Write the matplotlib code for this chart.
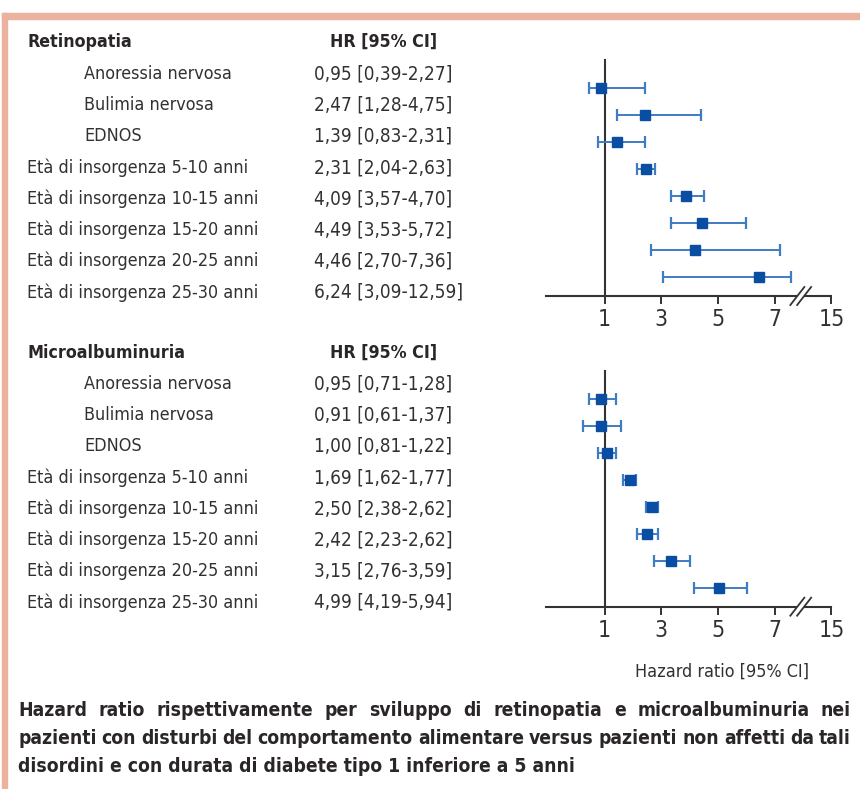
import matplotlib
matplotlib.use("Agg")
import matplotlib.pyplot as plt
from matplotlib import font_manager as fm
from matplotlib.patches import Rectangle
import numpy as np

# ---------------- data ----------------
categories = ["Anoressia nervosa", "Bulimia nervosa", "EDNOS",
              "Età di insorgenza 5-10 anni", "Età di insorgenza 10-15 anni",
              "Età di insorgenza 15-20 anni", "Età di insorgenza 20-25 anni",
              "Età di insorgenza 25-30 anni"]
indented = [True, True, True, False, False, False, False, False]

ret_hr_text = ["0,95 [0,39-2,27]", "2,47 [1,28-4,75]", "1,39 [0,83-2,31]",
               "2,31 [2,04-2,63]", "4,09 [3,57-4,70]", "4,49 [3,53-5,72]",
               "4,46 [2,70-7,36]", "6,24 [3,09-12,59]"]
mic_hr_text = ["0,95 [0,71-1,28]", "0,91 [0,61-1,37]", "1,00 [0,81-1,22]",
               "1,69 [1,62-1,77]", "2,50 [2,38-2,62]", "2,42 [2,23-2,62]",
               "3,15 [2,76-3,59]", "4,99 [4,19-5,94]"]

# plotted positions (as drawn in the figure, on the broken axis scale)
ret_hr = [0.88, 2.41, 1.45, 2.45, 3.86, 4.43, 4.20, 6.44]
ret_lo = [0.44, 1.45, 0.75, 2.13, 3.33, 3.33, 2.63, 3.05]
ret_hi = [2.41, 4.39, 2.41, 2.79, 4.50, 5.98, 7.20, 7.57]

mic_hr = [0.88, 0.88, 1.07, 1.88, 2.66, 2.51, 3.33, 5.03]
mic_lo = [0.45, 0.25, 0.75, 1.64, 2.45, 2.13, 2.74, 4.14]
mic_hi = [1.40, 1.59, 1.40, 2.10, 2.87, 2.87, 4.00, 6.02]

tick_pos = [1, 3, 5, 7, 9]
tick_labels = ["1", "3", "5", "7", "15"]

panel_titles = ["Retinopatia", "Microalbuminuria"]
hr_header = "HR [95% CI]"
xlabel = "Hazard ratio [95% CI]"
caption_lines = [
    "Hazard ratio rispettivamente per sviluppo di retinopatia e microalbuminuria nei",
    "pazienti con disturbi del comportamento alimentare versus pazienti non affetti da tali",
    "disordini e con durata di diabete tipo 1 inferiore a 5 anni",
]

# ---------------- style ----------------
names = {f.name for f in fm.fontManager.ttflist}
if "Liberation Sans Narrow" in names:
    FONT, STRETCH = "Liberation Sans Narrow", "normal"
else:
    FONT, STRETCH = "DejaVu Sans", "condensed"
plt.rcParams["font.family"] = [FONT, "DejaVu Sans"]
plt.rcParams["font.stretch"] = STRETCH

TXT = "#2a2627"
TXT_LIGHT = "#333031"
BORDER = "#ebb29f"
MARK = "#0a4ea3"
ERR = "#3f7cc4"
AXC = "#333333"

W, H = 860, 789
fig = plt.figure(figsize=(W / 100, H / 100), dpi=100)
fig.patch.set_facecolor("white")


def fx(x):
    return x / W


def fy(y):
    return 1 - y / H


# border
fig.patches.append(Rectangle((fx(2), 0), fx(5), 1 - 13 / H, transform=fig.transFigure,
                             color=BORDER, zorder=0))
fig.patches.append(Rectangle((fx(2), fy(18.5)), 1, 5.5 / H, transform=fig.transFigure,
                             color=BORDER, zorder=0))

LABEL_FS = 12.9
HR_FS = 13.6
HEAD_FS = 12.8
TICK_FS = 16.5

row_step = 27.0
text_step = 31.2

panels = [
    dict(title_y=42, row_text0=74, row0=88, hr=ret_hr, lo=ret_lo, hi=ret_hi, txt=ret_hr_text,
         axis_y=296, vtop=60),
    dict(title_y=353, row_text0=384, row0=399.3, hr=mic_hr, lo=mic_lo, hi=mic_hi, txt=mic_hr_text,
         axis_y=606.7, vtop=371),
]

px_per_unit = 28.33
x1_px = 604.7
ax_left_px, ax_right_px = 540, 845

for p, title in zip(panels, panel_titles):
    fig.text(fx(27), fy(p["title_y"]), title, fontsize=HEAD_FS, fontweight="bold",
             color=TXT, va="center", ha="left")
    fig.text(fx(330), fy(p["title_y"]), hr_header, fontsize=HEAD_FS, fontweight="bold",
             color=TXT, va="center", ha="left")
    for i, (cat, ind, t) in enumerate(zip(categories, indented, p["txt"])):
        yy = p["row_text0"] + i * text_step
        fig.text(fx(84 if ind else 27), fy(yy), cat, fontsize=LABEL_FS, color=TXT_LIGHT,
                 va="center", ha="left")
        fig.text(fx(314), fy(yy), t, fontsize=HR_FS, color=TXT_LIGHT, va="center", ha="left")

    top_px = p["row0"] - 33
    bot_px = p["axis_y"] + 5
    ax = fig.add_axes([fx(ax_left_px), fy(bot_px), (ax_right_px - ax_left_px) / W,
                       (bot_px - top_px) / H])
    ax.set_xlim(1 + (ax_left_px - x1_px) / px_per_unit, 1 + (ax_right_px - x1_px) / px_per_unit)
    ax.set_ylim((bot_px - p["row0"]) / row_step, (top_px - p["row0"]) / row_step)
    ax.patch.set_alpha(0)
    axis_row = (p["axis_y"] - p["row0"]) / row_step
    vtop_row = (p["vtop"] - p["row0"]) / row_step

    rows = np.arange(len(p["hr"]))
    hr = np.array(p["hr"])
    lo = np.array(p["lo"])
    hi = np.array(p["hi"])
    ax.errorbar(hr, rows, xerr=[hr - lo, hi - hr], fmt="none", ecolor=ERR,
                elinewidth=1.4, capsize=4.6, capthick=1.6, zorder=3)
    ax.plot(hr, rows, linestyle="none", marker="s", markersize=7.6, color=MARK, zorder=4)

    for s in ["top", "right"]:
        ax.spines[s].set_visible(False)
    ax.spines["left"].set_position(("data", 1))
    ax.spines["left"].set_bounds(axis_row, vtop_row)
    ax.spines["bottom"].set_position(("data", axis_row))
    ax.spines["bottom"].set_bounds(1 + (546 - x1_px) / px_per_unit, 9)
    for s in ["left", "bottom"]:
        ax.spines[s].set_color(AXC)
        ax.spines[s].set_linewidth(1.5)
        ax.spines[s].set_zorder(2)
    ax.set_yticks([])
    ax.set_xticks(tick_pos)
    ax.set_xticklabels(tick_labels)
    ax.tick_params(axis="x", direction="out", length=6, width=1.4, color=AXC,
                   labelsize=TICK_FS, labelcolor=TXT_LIGHT, pad=3)

    # axis break
    dxu = 7 / px_per_unit
    dyu = 9 / row_step
    ax.plot([7.80, 8.04], [axis_row, axis_row], color="white", lw=3, zorder=5,
            solid_capstyle="butt", clip_on=False)
    for cx in [7.80, 8.04]:
        ax.plot([cx - dxu, cx + dxu], [axis_row + dyu, axis_row - dyu], color=AXC, lw=1.3,
                zorder=6, clip_on=False)

fig.text(fx(722), fy(672), xlabel, fontsize=LABEL_FS, color=TXT_LIGHT, ha="center", va="center")

# justified caption
renderer = fig.canvas.get_renderer()
CAP_FS = 13.85
left_px, right_px = 18, 851
cap_y = [711, 739, 767]
for li, (line, yy) in enumerate(zip(caption_lines, cap_y)):
    words = line.split(" ")
    if li < len(caption_lines) - 1:
        texts = [fig.text(0, fy(yy), w, fontsize=CAP_FS, fontweight="bold", color=TXT,
                          va="center", ha="left") for w in words]
        widths = [t.get_window_extent(renderer).width for t in texts]
        gap = (right_px - left_px - sum(widths)) / (len(words) - 1)
        x = left_px
        for t, wdt in zip(texts, widths):
            t.set_x(fx(x))
            x += wdt + gap
    else:
        fig.text(fx(left_px), fy(yy), line, fontsize=CAP_FS, fontweight="bold", color=TXT,
                 va="center", ha="left")

fig.savefig("out.png", dpi=100, facecolor="white")
